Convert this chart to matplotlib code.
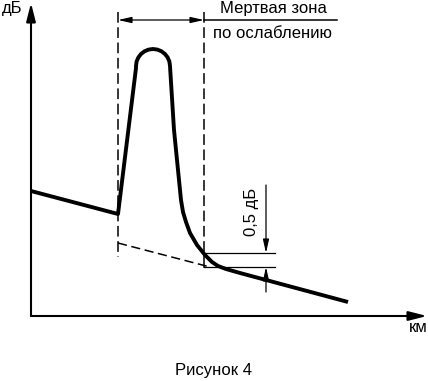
import matplotlib
matplotlib.use("Agg")
import matplotlib.pyplot as plt

plt.rcParams['font.family'] = ['Liberation Sans', 'DejaVu Sans']

# reflectogram trace: distance vs level (arbitrary units, origin at axes corner)
dist = [0, 87, 105, 105, 105.6, 107.3, 110, 113.5, 117.6, 122, 126.4, 130.5, 134,
        136.7, 138.4, 139, 143, 147, 150, 152, 155, 159, 166, 174, 181, 187, 195,
        209, 317]
level = [125, 102, 248, 250, 254.4, 258.5, 262, 264.7, 266.4, 267, 266.4, 264.7,
         262, 258.5, 254.4, 250, 186, 146, 116, 104, 94, 83, 71, 61, 54, 50, 47,
         43, 14]

# extrapolated backscatter line
dash_x = [87, 179]
dash_y = [73, 49]

zone_start, zone_end = 87, 173
lvl_hi, lvl_lo = 63, 49

fig = plt.figure(figsize=(4.28, 3.81), dpi=100)
ax = fig.add_axes([0, 0, 1, 1])
ax.set_xlim(-31, 397)
ax.set_ylim(-65, 316)
ax.axis('off')

arrow = dict(arrowstyle='-|>,head_length=1.1,head_width=0.28', color='black',
             lw=1.5, shrinkA=0, shrinkB=0)
thin = dict(arrowstyle='-|>,head_length=0.8,head_width=0.18', color='black',
            lw=0.9, shrinkA=0, shrinkB=0)

# axes with arrows
ax.annotate('', xy=(0, 313), xytext=(0, 0), arrowprops=arrow)
ax.annotate('', xy=(396, 0), xytext=(0, 0), arrowprops=arrow)

# trace
ax.plot(dist, level, color='black', lw=2.8, solid_joinstyle='round',
        solid_capstyle='butt')
ax.plot(dash_x, dash_y, color='black', lw=1.1, ls=(0, (6, 3)))

# dead zone boundaries
ax.plot([zone_start, zone_start], [304, 59], color='black', lw=1.1, ls=(0, (7, 3)))
ax.plot([zone_end, zone_end], [304, lvl_hi], color='black', lw=1.1, ls=(0, (7, 3)))
ax.plot([zone_end, zone_end], [lvl_hi, lvl_lo], color='black', lw=1.1)
ax.annotate('', xy=(zone_start, 296), xytext=(zone_end, 296),
            arrowprops=dict(thin, arrowstyle='<|-|>,head_length=0.8,head_width=0.18'))
ax.plot([zone_end, 306], [296, 296], color='black', lw=1.1)

# 0.5 dB marks
ax.plot([zone_end, 244], [lvl_hi, lvl_hi], color='black', lw=0.9)
ax.plot([zone_end, 244], [lvl_lo, lvl_lo], color='black', lw=0.9)
ax.annotate('', xy=(235, lvl_hi), xytext=(235, 131), arrowprops=thin)
ax.annotate('', xy=(235, lvl_lo), xytext=(235, 24), arrowprops=thin)

fs = 12
ax.text(-19, 308, 'дБ', fontsize=fs, ha='center', va='center')
ax.text(387, -12, 'км', fontsize=fs, ha='center', va='center')
ax.text(242, 307, 'Мертвая зона', fontsize=fs, ha='center', va='center')
ax.text(242, 283, 'по ослаблению', fontsize=fs, ha='center', va='center')
ax.text(221, 104, '0,5 дБ', fontsize=fs, ha='center', va='center', rotation=90)
ax.text(183, -54, 'Рисунок 4', fontsize=fs, ha='center', va='center')

fig.savefig('out.png', dpi=100)
